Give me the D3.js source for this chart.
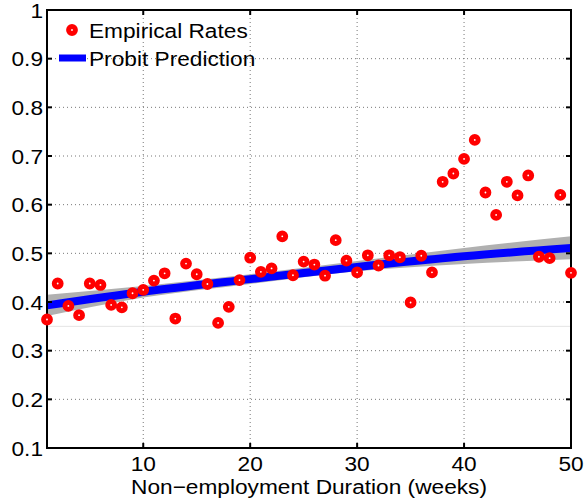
<!DOCTYPE html>
<html>
<head>
<meta charset="utf-8">
<script src="https://cdn.jsdelivr.net/npm/d3@7"></script>
<style>
  html, body { margin: 0; padding: 0; background: #fff; }
  svg { display: block; font-family: "Liberation Sans", Arial, Helvetica, sans-serif; }
</style>
</head>
<body>
<svg id="chart" width="584" height="501"></svg>
<script>
// Weeks of non-employment and the observed re-employment rates
const weeks = [1,2,3,4,5,6,7,8,9,10,11,12,13,14,15,16,17,18,19,20,21,22,23,24,25,
               26,27,28,29,30,31,32,33,34,35,36,37,38,39,40,41,42,43,44,45,46,47,48,49,50];
const empiricalRates = [0.364,0.438,0.392,0.373,0.438,0.435,0.394,0.389,0.418,0.425,
                        0.444,0.459,0.366,0.479,0.457,0.437,0.357,0.390,0.445,0.491,
                        0.462,0.469,0.535,0.455,0.483,0.477,0.454,0.527,0.485,0.461,
                        0.496,0.475,0.496,0.492,0.399,0.495,0.461,0.647,0.664,0.694,
                        0.733,0.625,0.579,0.647,0.619,0.660,0.493,0.490,0.620,0.460];

// Probit prediction and its confidence band
const predWeeks = [1, 10, 20, 30, 40, 50];
const probitFit = [0.393, 0.421, 0.447, 0.472, 0.494, 0.511];
const bandLower = [0.371, 0.409, 0.437, 0.463, 0.478, 0.488];
const bandUpper = [0.415, 0.433, 0.457, 0.484, 0.511, 0.535];

// Axis ticks
const xTicks = [10, 20, 30, 40, 50];
const yTicks = [0.1, 0.2, 0.3, 0.4, 0.5, 0.6, 0.7, 0.8, 0.9, 1];
const refLevel = 0.35;

const legendLabels = ["Empirical Rates", "Probit Prediction"];
const xLabel = "Non\u2212employment Duration (weeks)";

const M = { left: 47, top: 10, right: 13, bottom: 53 };
const W = 584, H = 501;
const iw = W - M.left - M.right, ih = H - M.top - M.bottom;
const TXS = 1.08; // slight horizontal stretch of the text glyphs

const svg = d3.select("#chart");
const g = svg.append("g").attr("transform", `translate(${M.left},${M.top})`);

const x = d3.scaleLinear().domain([1, 50]).range([0, iw]);
const y = d3.scaleLinear().domain([0.1, 1]).range([ih, 0]);

// dotted grid
const grid = g.append("g");
grid.selectAll(".vg").data(xTicks.filter(t => t < 50)).join("line")
  .attr("x1", d => x(d)).attr("x2", d => x(d)).attr("y1", 0).attr("y2", ih)
  .attr("stroke", "#777").attr("stroke-width", 1).attr("stroke-dasharray", "1,3");
grid.selectAll(".hg").data(yTicks.filter(t => t > 0.1 && t < 1)).join("line")
  .attr("x1", 0).attr("x2", iw).attr("y1", d => y(d)).attr("y2", d => y(d))
  .attr("stroke", "#777").attr("stroke-width", 1).attr("stroke-dasharray", "1,3");

// faint reference level
g.append("line")
  .attr("x1", 0).attr("x2", iw).attr("y1", y(refLevel)).attr("y2", y(refLevel))
  .attr("stroke", "#e4e4e4").attr("stroke-width", 1);

// confidence band
const band = predWeeks.map((w, i) => ({ w, lo: bandLower[i], hi: bandUpper[i] }));
g.append("path").datum(band)
  .attr("fill", "#b0b0b0")
  .attr("d", d3.area().x(d => x(d.w)).y0(d => y(d.lo)).y1(d => y(d.hi)).curve(d3.curveMonotoneX));

// probit prediction line
const fit = predWeeks.map((w, i) => ({ w, v: probitFit[i] }));
g.append("path").datum(fit)
  .attr("fill", "none").attr("stroke", "#0000ff").attr("stroke-width", 8)
  .attr("d", d3.line().x(d => x(d.w)).y(d => y(d.v)).curve(d3.curveMonotoneX));

// axes box with inward ticks on all four sides
const axG = g.append("g");
const tickLen = 5;
axG.append("rect").attr("x", 0).attr("y", 0).attr("width", iw).attr("height", ih)
  .attr("fill", "none").attr("stroke", "#000").attr("stroke-width", 2);
const xt = xTicks.filter(t => t < 50);
axG.selectAll(".xtb").data(xt).join("line")
  .attr("x1", d => x(d)).attr("x2", d => x(d)).attr("y1", ih).attr("y2", ih - tickLen)
  .attr("stroke", "#000").attr("stroke-width", 2);
axG.selectAll(".xtt").data(xt).join("line")
  .attr("x1", d => x(d)).attr("x2", d => x(d)).attr("y1", 0).attr("y2", tickLen)
  .attr("stroke", "#000").attr("stroke-width", 2);
const yt = yTicks.filter(t => t > 0.1 && t < 1);
axG.selectAll(".ytl").data(yt).join("line")
  .attr("x1", 0).attr("x2", tickLen).attr("y1", d => y(d)).attr("y2", d => y(d))
  .attr("stroke", "#000").attr("stroke-width", 2);
axG.selectAll(".ytr").data(yt).join("line")
  .attr("x1", iw).attr("x2", iw - tickLen).attr("y1", d => y(d)).attr("y2", d => y(d))
  .attr("stroke", "#000").attr("stroke-width", 2);

// tick labels
const fs = 21;
g.append("g").selectAll("text").data(yTicks).join("text")
  .attr("transform", d => `translate(-4,${y(d) + 7.5}) scale(${TXS},1)`)
  .attr("text-anchor", "end").attr("font-size", fs).attr("fill", "#000")
  .text(d => d3.format("~g")(d));
g.append("g").selectAll("text").data(xTicks).join("text")
  .attr("transform", d => `translate(${x(d)},${ih + 23}) scale(${TXS},1)`)
  .attr("text-anchor", "middle").attr("font-size", fs).attr("fill", "#000")
  .text(d => d);

// x axis title
g.append("text")
  .attr("transform", `translate(${iw / 2},${ih + 46}) scale(${TXS},1)`)
  .attr("text-anchor", "middle").attr("font-size", fs).attr("fill", "#000")
  .text(xLabel);

// empirical rate markers
const pts = weeks.map((w, i) => ({ w, v: empiricalRates[i] }));
g.append("g").selectAll("circle").data(pts).join("circle")
  .attr("cx", d => x(d.w)).attr("cy", d => y(d.v)).attr("r", 3.4)
  .attr("fill", "#fff").attr("stroke", "#ff0000").attr("stroke-width", 5);

// legend
const lg = g.append("g");
lg.append("circle").attr("cx", 25).attr("cy", 20).attr("r", 3.4)
  .attr("fill", "#fff").attr("stroke", "#ff0000").attr("stroke-width", 5);
lg.append("line").attr("x1", 12).attr("x2", 39).attr("y1", 48).attr("y2", 48)
  .attr("stroke", "#0000ff").attr("stroke-width", 7);
lg.selectAll("text").data(legendLabels).join("text")
  .attr("transform", (d, i) => `translate(42,${27.5 + i * 28}) scale(${TXS},1)`)
  .attr("font-size", fs).attr("fill", "#000")
  .text(d => d);
</script>
</body>
</html>
